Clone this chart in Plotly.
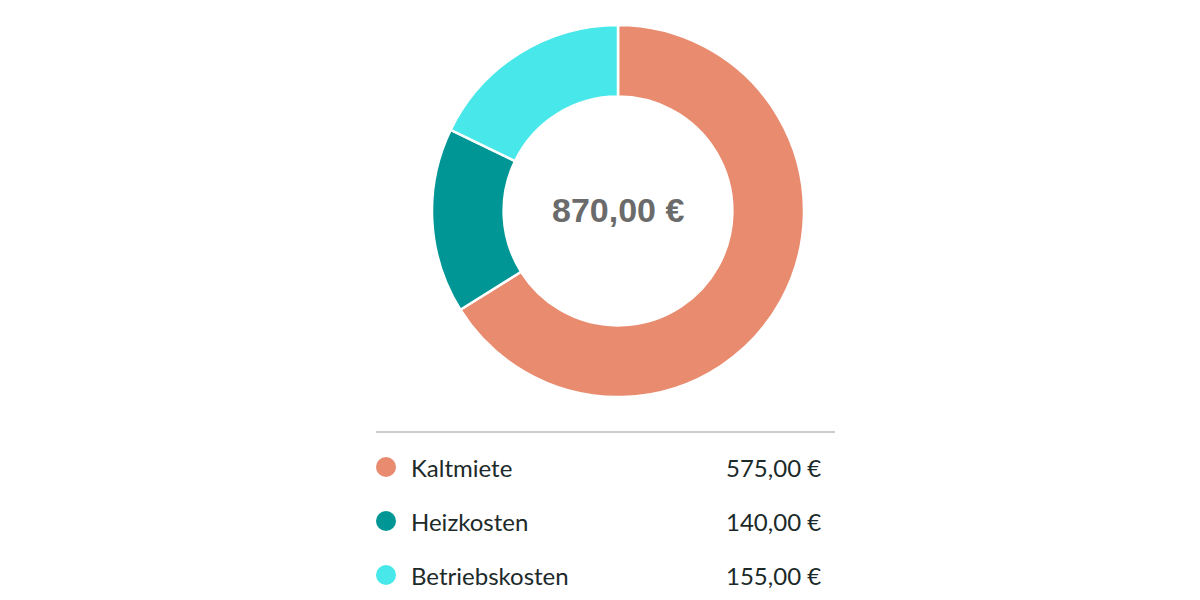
import plotly.graph_objects as go

labels = ["Kaltmiete", "Heizkosten", "Betriebskosten"]
values = [575, 140, 155]
colors = ["#E88B6E", "#009696", "#48E8EA"]


def euro(v):
    return f"{v:,.2f}".replace(",", "X").replace(".", ",").replace("X", ".") + " €"


total = sum(values)

W, H = 1200, 600
OFF = 8  # default body margin of the html page
cx, cy, r = 618, 211, 186

fig = go.Figure()
fig.add_trace(go.Pie(
    labels=labels, values=values, hole=0.615, sort=False,
    direction="clockwise", rotation=0,
    marker=dict(colors=colors, line=dict(color="white", width=2.5)),
    textinfo="none", hoverinfo="label+value", showlegend=False,
    domain=dict(x=[(cx - OFF - r) / W, (cx - OFF + r) / W],
                y=[(H - (cy - OFF) - r) / H, (H - (cy - OFF) + r) / H]),
))

# legend table below the donut
row_y = [467 + 54 * i for i in range(len(labels))]
fig.add_trace(go.Scatter(
    x=[386] * len(labels), y=row_y, mode="markers",
    marker=dict(size=20, color=colors, line=dict(width=0)),
    hoverinfo="skip", showlegend=False,
))

annotations = [dict(
    x=cx, y=cy - 1, xref="x", yref="y", text="<b>" + euro(total) + "</b>",
    showarrow=False, font=dict(family="Liberation Sans, Arial", size=34, color="#6b6b6b"),
)]
for lab, val, yy in zip(labels, values, row_y):
    annotations.append(dict(
        x=409, y=yy, xref="x", yref="y", text=lab, xanchor="left",
        showarrow=False, font=dict(family="Lato", size=24, color="#1c2a2a"),
    ))
    annotations.append(dict(
        x=823, y=yy, xref="x", yref="y", text=euro(val), xanchor="right",
        showarrow=False, font=dict(family="Lato", size=24, color="#1c2a2a"),
    ))

fig.update_layout(
    width=W, height=H, margin=dict(l=0, r=0, t=0, b=0),
    paper_bgcolor="white", plot_bgcolor="white",
    xaxis=dict(range=[OFF, W + OFF], visible=False, fixedrange=True),
    yaxis=dict(range=[H + OFF, OFF], visible=False, fixedrange=True),
    annotations=annotations,
    shapes=[dict(type="line", xref="x", yref="y", x0=376, x1=835, y0=432, y1=432,
                 line=dict(color="#cccccc", width=2))],
)

fig.write_html("out.html")
